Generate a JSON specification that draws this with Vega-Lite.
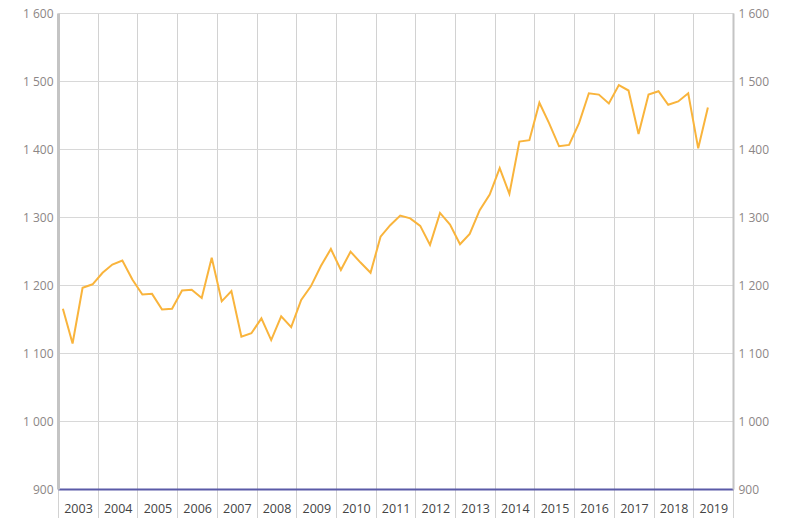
{
  "$schema": "https://vega.github.io/schema/vega-lite/v6.json",
  "width": 675,
  "height": 476,
  "autosize": {"type": "none"},
  "padding": {"left": 58, "top": 13, "right": 53, "bottom": 29},
  "background": "white",
  "config": {"view": {"stroke": null}, "font": "Open Sans"},
  "data": {
    "values": [
      {"date": "2003-02-15", "v": 1165}, {"date": "2003-05-15", "v": 1114}, {"date": "2003-08-15", "v": 1196}, {"date": "2003-11-15", "v": 1201},
      {"date": "2004-02-15", "v": 1218}, {"date": "2004-05-15", "v": 1230}, {"date": "2004-08-15", "v": 1236}, {"date": "2004-11-15", "v": 1208},
      {"date": "2005-02-15", "v": 1186}, {"date": "2005-05-15", "v": 1187}, {"date": "2005-08-15", "v": 1164}, {"date": "2005-11-15", "v": 1165},
      {"date": "2006-02-15", "v": 1192}, {"date": "2006-05-15", "v": 1193}, {"date": "2006-08-15", "v": 1181}, {"date": "2006-11-15", "v": 1240},
      {"date": "2007-02-15", "v": 1176}, {"date": "2007-05-15", "v": 1191}, {"date": "2007-08-15", "v": 1124}, {"date": "2007-11-15", "v": 1129},
      {"date": "2008-02-15", "v": 1151}, {"date": "2008-05-15", "v": 1119}, {"date": "2008-08-15", "v": 1154}, {"date": "2008-11-15", "v": 1138},
      {"date": "2009-02-15", "v": 1178}, {"date": "2009-05-15", "v": 1198}, {"date": "2009-08-15", "v": 1228}, {"date": "2009-11-15", "v": 1253},
      {"date": "2010-02-15", "v": 1222}, {"date": "2010-05-15", "v": 1249}, {"date": "2010-08-15", "v": 1233}, {"date": "2010-11-15", "v": 1218},
      {"date": "2011-02-15", "v": 1271}, {"date": "2011-05-15", "v": 1288}, {"date": "2011-08-15", "v": 1302}, {"date": "2011-11-15", "v": 1298},
      {"date": "2012-02-15", "v": 1287}, {"date": "2012-05-15", "v": 1259}, {"date": "2012-08-15", "v": 1306}, {"date": "2012-11-15", "v": 1289},
      {"date": "2013-02-15", "v": 1260}, {"date": "2013-05-15", "v": 1275}, {"date": "2013-08-15", "v": 1310}, {"date": "2013-11-15", "v": 1333},
      {"date": "2014-02-15", "v": 1372}, {"date": "2014-05-15", "v": 1334}, {"date": "2014-08-15", "v": 1411}, {"date": "2014-11-15", "v": 1413},
      {"date": "2015-02-15", "v": 1468}, {"date": "2015-05-15", "v": 1438}, {"date": "2015-08-15", "v": 1404}, {"date": "2015-11-15", "v": 1406},
      {"date": "2016-02-15", "v": 1438}, {"date": "2016-05-15", "v": 1482}, {"date": "2016-08-15", "v": 1480}, {"date": "2016-11-15", "v": 1467},
      {"date": "2017-02-15", "v": 1494}, {"date": "2017-05-15", "v": 1486}, {"date": "2017-08-15", "v": 1422}, {"date": "2017-11-15", "v": 1480},
      {"date": "2018-02-15", "v": 1485}, {"date": "2018-05-15", "v": 1465}, {"date": "2018-08-15", "v": 1470}, {"date": "2018-11-15", "v": 1482},
      {"date": "2019-02-15", "v": 1401}, {"date": "2019-05-15", "v": 1461}
    ]
  },
  "layer": [
    {
      "mark": {"type": "line", "color": "#f9b43c", "strokeWidth": 2},
      "encoding": {
        "x": {
          "field": "date",
          "type": "temporal",
          "scale": {"domain": [{"year": 2003, "month": 1, "date": 1}, {"year": 2020, "month": 1, "date": 1}]},
          "axis": {
            "title": null,
            "tickCount": 40,
            "values": [
              {"year": 2003, "month": 1, "date": 1}, {"year": 2004, "month": 1, "date": 1}, {"year": 2005, "month": 1, "date": 1},
              {"year": 2006, "month": 1, "date": 1}, {"year": 2007, "month": 1, "date": 1}, {"year": 2008, "month": 1, "date": 1},
              {"year": 2009, "month": 1, "date": 1}, {"year": 2010, "month": 1, "date": 1}, {"year": 2011, "month": 1, "date": 1},
              {"year": 2012, "month": 1, "date": 1}, {"year": 2013, "month": 1, "date": 1}, {"year": 2014, "month": 1, "date": 1},
              {"year": 2015, "month": 1, "date": 1}, {"year": 2016, "month": 1, "date": 1}, {"year": 2017, "month": 1, "date": 1},
              {"year": 2018, "month": 1, "date": 1}, {"year": 2019, "month": 1, "date": 1}, {"year": 2020, "month": 1, "date": 1}
            ],
            "labelExpr": "year(datum.value) >= 2020 ? '' : timeFormat(datum.value, '%Y')",
            "labelOffset": 20,
            "labelFlush": false,
            "labelOverlap": false,
            "labelPadding": -16,
            "labelFontSize": 12.5,
            "labelColor": "#444444",
            "grid": true,
            "gridColor": "#d2d2d2",
            "gridWidth": 1,
            "ticks": true,
            "tickSize": 29,
            "tickColor": "#d2d2d2",
            "domainColor": "#5a5aa8",
            "domainWidth": 2
          }
        },
        "y": {
          "field": "v",
          "type": "quantitative",
          "scale": {"domain": [900, 1600], "nice": false, "zero": false},
          "axis": {
            "title": null,
            "orient": "left",
            "values": [900, 1000, 1100, 1200, 1300, 1400, 1500, 1600],
            "labelExpr": "replace(format(datum.value, ','), ',', ' ')",
            "grid": true,
            "gridColor": "#d8d8d8",
            "ticks": false,
            "labelPadding": 5,
            "labelFontSize": 12,
            "labelColor": "#8c8686",
            "domainColor": "#c4c4c4",
            "domainWidth": 3
          }
        }
      }
    },
    {
      "mark": {"type": "line", "opacity": 0},
      "encoding": {
        "x": {"field": "date", "type": "temporal"},
        "y": {
          "field": "v",
          "type": "quantitative",
          "scale": {"domain": [900, 1600], "nice": false, "zero": false},
          "axis": {
            "title": null,
            "orient": "right",
            "values": [900, 1000, 1100, 1200, 1300, 1400, 1500, 1600],
            "labelExpr": "replace(format(datum.value, ','), ',', ' ')",
            "grid": false,
            "ticks": false,
            "labelPadding": 5,
            "labelFontSize": 12,
            "labelColor": "#8c8686",
            "domainColor": "#c4c4c4",
            "domainWidth": 2
          }
        }
      }
    }
  ],
  "resolve": {"scale": {"y": "independent"}, "axis": {"y": "independent"}}
}
